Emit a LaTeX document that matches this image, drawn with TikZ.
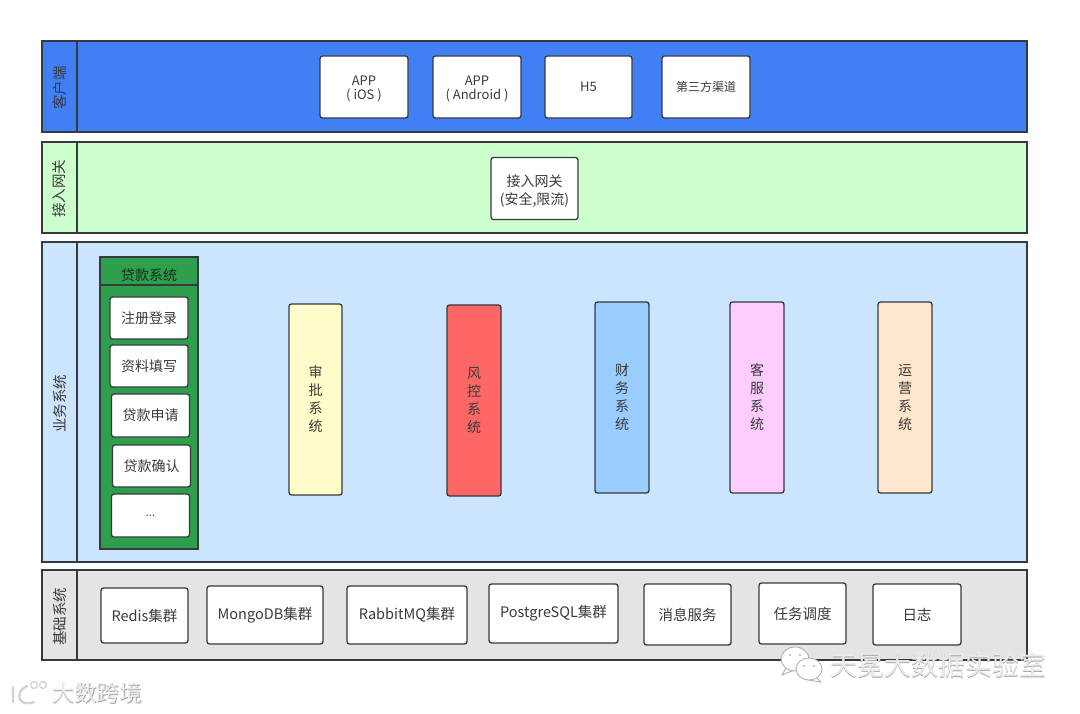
\documentclass[tikz,border=0pt]{standalone}
\usepackage{fontspec}
\setmainfont{Noto Sans CJK SC}
\usepackage{xcolor}
\usetikzlibrary{positioning}

\definecolor{clientblue}{HTML}{4080F4}
\definecolor{gatewaygreen}{HTML}{CCFFCC}
\definecolor{bizblue}{HTML}{CCE5FF}
\definecolor{basegray}{HTML}{E4E4E4}
\definecolor{loangreen}{HTML}{2E9F4C}
\definecolor{edgegray}{HTML}{36393D}
\definecolor{textgray}{HTML}{3A3A3A}
\definecolor{financeblue}{HTML}{99CCFF}
\definecolor{servicepink}{HTML}{FFCCFF}
\definecolor{operationpeach}{HTML}{FFE6CC}
\newcommand{\lowline}[1]{\rule{0pt}{#1pt}}

\begin{document}
\begin{tikzpicture}[
    x=1pt, y=-1pt,
    node distance=6pt and 25pt,
    every node/.style={outer sep=0pt, inner sep=0pt, text=textgray},
    lanebody/.style={draw=edgegray, line width=1.4pt, minimum width=950pt, anchor=north west},
    lanehead/.style={draw=edgegray, line width=1.4pt, minimum height=35pt, rotate=90,
      font=\fontsize{14.5}{16}\selectfont, execute at end node={\hspace{3pt}}},
    box/.style={draw=edgegray, line width=1.3pt, fill=white, rounded corners=2.5pt, align=center,
      minimum width=88pt, minimum height=62pt, font=\fontsize{13}{14.5}\selectfont},
    stepbox/.style={box, minimum width=78pt, minimum height=42pt, font=\fontsize{14}{17}\selectfont},
    basebox/.style={box, minimum height=58pt, font=\fontsize{14.5}{18}\selectfont},
    sysbox/.style={box, minimum width=53pt, minimum height=191pt, font=\fontsize{14}{18}\selectfont},
    wmarkshade/.style={text=gray!70, font=\fontsize{22.5}{24}\selectfont},
    wmark/.style={text=gray!15, font=\fontsize{22.5}{24}\selectfont},
    wmarkline/.style={draw=gray!60, fill=white, line width=0.9pt}
]
\useasboundingbox (0,0) rectangle (1080,714);

% lanes
\node[lanebody, fill=clientblue, minimum height=91pt] (clientlane) at (77,41) {};
\node[lanehead, fill=clientblue, minimum width=91pt] (clienthead) at (59.5,86.5) {客户端};
\node[lanebody, fill=gatewaygreen, minimum height=91pt] (gatewaylane) at (77,142) {};
\node[lanehead, fill=gatewaygreen, minimum width=91pt] (gatewayhead) at (59.5,187.5) {接入网关};
\node[lanebody, fill=bizblue, minimum height=320pt] (bizlane) at (77,242) {};
\node[lanehead, fill=bizblue, minimum width=320pt] (bizhead) at (59.5,402) {业务系统};
\node[lanebody, fill=basegray, minimum height=90pt] (baselane) at (77,570) {};
\node[lanehead, fill=basegray, minimum width=90pt] (basehead) at (59.5,615) {基础系统};

% client row
\node[box] (ios) at (364,87) {\lowline{14}APP\\( iOS )};
\node[box, right=of ios] (android) {\lowline{14}APP\\( Android )};
\node[box, minimum width=87pt, right=24pt of android] (hfive) {H5};
\node[box, right=30pt of hfive, font=\fontsize{12}{16}\selectfont] (thirdparty) {第三方渠道};

% gateway
\node[box, minimum width=87pt, font=\fontsize{14}{18}\selectfont] (gateway) at (534.5,188.5) {\lowline{17}接入网关\\(安全,限流)};

% loan system
\node[draw=edgegray, line width=1.6pt, fill=loangreen, minimum width=98pt, minimum height=28pt,
  font=\fontsize{14}{17}\selectfont, text=black!70!loangreen] (loanhead) at (149,271) {\lowline{20}贷款系统};
\node[draw=edgegray, line width=1.6pt, fill=loangreen, minimum width=98pt, minimum height=264pt,
  below=0pt of loanhead] (loanbody) {};
\node[stepbox] (register) at (149,318) {注册登录};
\node[stepbox, below=of register] (profile) {资料填写};
\node[stepbox, minimum height=43pt, below=7pt of profile, xshift=1.5pt] (apply) {贷款申请};
\node[stepbox, below=8pt of apply, xshift=1pt] (confirm) {贷款确认};
\node[stepbox, minimum height=43pt, below=7pt of confirm, xshift=-1pt, font=\fontsize{11}{14}\selectfont] (more) {...};

% business systems
\node[sysbox, fill=yellow!20] (approval) at (315.5,399.5) {审\\批\\系\\统};
\node[sysbox, fill=red!60, minimum width=54pt] (risk) at (474,400.5) {风\\控\\系\\统};
\node[sysbox, fill=financeblue, minimum width=54pt] (finance) at (622,397.5) {财\\务\\系\\统};
\node[sysbox, fill=servicepink, minimum width=54pt] (service) at (757,397.5) {客\\服\\系\\统};
\node[sysbox, fill=operationpeach, minimum width=54pt] (operation) at (905,397.5) {运\\营\\系\\统};

% base row
\node[basebox, minimum width=87pt, minimum height=55pt] (redis) at (144.5,615.5) {Redis集群};
\node[basebox, minimum width=116pt] (mongo) at (265,615) {MongoDB集群};
\node[basebox, minimum width=120pt] (rabbit) at (407,615) {RabbitMQ集群};
\node[basebox, minimum width=129pt, minimum height=59pt] (postgre) at (553.5,613.5) {PostgreSQL集群};
\node[basebox, minimum width=87pt, minimum height=61pt] (message) at (687.5,614.5) {消息服务};
\node[basebox, minimum width=87pt, minimum height=61pt] (schedule) at (802.5,613.5) {任务调度};
\node[basebox, minimum width=88pt, minimum height=61pt] (logs) at (917,614.5) {日志};

% watermarks
\node[wmarkshade, anchor=west] (leftshade) at (52.8,693.8) {大数跨境};
\node[wmark, anchor=west] (leftmark) at (52,693) {大数跨境};
\draw[gray!35, line width=2.4pt, line cap=round] (13,687) -- (13,702) (27,686) .. controls (14,692) and (18,708) .. (34,702);
\draw[gray!35, line width=1.3pt] (34,685) circle (3.5) (43,685) circle (3.5);
\node[wmarkshade, anchor=west, font=\fontsize{27}{29}\selectfont] (rightshade) at (830.8,665.8) {天冕大数据实验室};
\node[wmark, anchor=west, font=\fontsize{27}{29}\selectfont] (rightmark) at (830,665) {天冕大数据实验室};
\draw[wmarkline] (786,668) -- (782,675) -- (792,671) -- cycle;
\draw[wmarkline] (795,659) ellipse (14 and 12);
\draw[wmarkline] (816,677) -- (821,682) -- (808,680) -- cycle;
\draw[wmarkline] (809,669) ellipse (13 and 11);
\fill[gray!60] (790,655) circle (1.2) (800,655) circle (1.2) (804,666) circle (1.2) (814,666) circle (1.2);
\end{tikzpicture}
\end{document}
